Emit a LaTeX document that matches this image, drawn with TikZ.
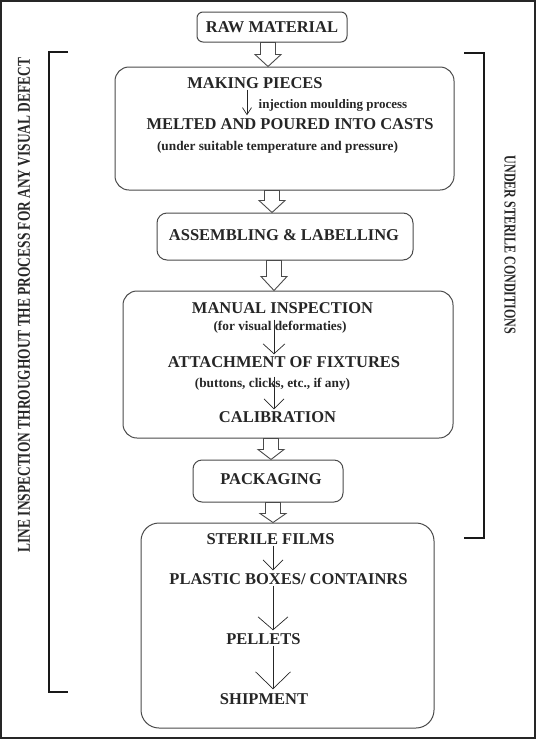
\documentclass[tikz,border=0pt]{standalone}
\usepackage{fontspec}
\setmainfont{Liberation Serif}
\usetikzlibrary{arrows.meta,calc}
\definecolor{ink}{HTML}{262626}
\definecolor{edge}{HTML}{4a4a4a}
\newcommand{\hollowarr}[4]{% from node #1 to node #2 at x=#3, head length #4
  \draw[hollow] let \p1=(#1.south), \p2=(#2.north) in
   (#3pt-7.5pt,\y1) -- (#3pt+7.5pt,\y1) -- (#3pt+7.5pt,\y2+#4pt) -- (#3pt+13pt,\y2+#4pt)
   -- (#3pt,\y2) -- (#3pt-13pt,\y2+#4pt) -- (#3pt-7.5pt,\y2+#4pt) -- cycle;}
\tikzset{
  boxs/.style={draw=edge, line width=1pt, fill=none, inner sep=0pt},
  big/.style={font=\fontsize{16.5}{18}\selectfont\bfseries, text=ink, inner sep=1pt},
  small/.style={font=\fontsize{13.3}{15}\selectfont\bfseries, text=ink, inner sep=1pt},
  hollow/.style={draw=edge, line width=0.9pt, fill=white, line join=miter},
  thinarr/.style={draw=ink, line width=0.7pt},
  bracket/.style={draw=black!90, line width=2.4pt, line cap=butt},
}
\begin{document}
\begin{tikzpicture}[x=1pt,y=-1pt]
\useasboundingbox (0,0) rectangle (536,739);
\draw[draw=black!85, line width=1.5pt] (1,1) rectangle (535,738);

% boxes
\node[boxs, minimum width=150pt, minimum height=30pt, rounded corners=6pt] (raw) at (272,27) {};
\node[boxs, minimum width=339pt, minimum height=123pt, rounded corners=14pt] (b1) at (284.5,128.5) {};
\node[boxs, minimum width=256pt, minimum height=47pt, rounded corners=10pt] (asm) at (285,236.5) {};
\node[boxs, minimum width=330pt, minimum height=147pt, rounded corners=14pt] (b3) at (288,364.5) {};
\node[boxs, minimum width=150pt, minimum height=42pt, rounded corners=9pt] (pack) at (268,481) {};
\node[boxs, minimum width=293pt, minimum height=205pt, rounded corners=18pt] (b5) at (287.5,625.5) {};

% hollow arrows
\hollowarr{raw}{b1}{268}{12}
\hollowarr{b1}{asm}{272}{12}
\hollowarr{asm}{b3}{274}{14}
\hollowarr{b3}{pack}{271}{10}
\hollowarr{pack}{b5}{273}{9}

% texts
\node[big] (rawt) at (272,27) {RAW MATERIAL};
\node[big] (making) at (255,83) {MAKING PIECES};
\node[small, font=\fontsize{13}{15}\selectfont\bfseries] (inj) at (333,105) {injection moulding process};
\node[big] (melted) at (290,124) {MELTED AND POURED INTO CASTS};
\node[small] (under) at (277.5,147) {(under suitable temperature and pressure)};
\node[big] (asmt) at (284,235) {ASSEMBLING \& LABELLING};
\node[big] (manual) at (282.5,308) {MANUAL INSPECTION};
\node[small] (forvis) at (280,327) {(for visual deformaties)};
\node[big] (attach) at (284,362) {ATTACHMENT OF FIXTURES};
\node[small] (buttons) at (272.5,384) {(buttons, clicks, etc., if any)};
\node[big] (calib) at (277.5,417) {CALIBRATION};
\node[big] (packt) at (271,479) {PACKAGING};
\node[big] (sterile) at (270.5,539) {STERILE FILMS};
\node[big] (plastic) at (288.5,579) {PLASTIC BOXES/ CONTAINRS};
\node[big] (pellets) at (263.5,639) {PELLETS};
\node[big] (ship) at (264,699) {SHIPMENT};

% thin arrows
\coordinate (x1) at (247,0);
\coordinate (x2) at (274,0);
\coordinate (x3) at (273,0);
\draw[thinarr, -{Straight Barb[length=7pt,width=9pt]}, shorten >=2pt] (x1 |- making.south) -- (x1 |- melted.north);
\draw[thinarr, -{Straight Barb[length=10pt,width=22pt]}, shorten >=1pt] (x2 |- forvis.north) -- (x2 |- attach.north);
\draw[thinarr, -{Straight Barb[length=10pt,width=20pt]}, shorten >=1pt] (x2 |- buttons.north) -- (x2 |- calib.north);
\draw[thinarr, -{Straight Barb[length=10pt,width=20pt]}, shorten >=2pt] (x3 |- sterile.south) -- (x3 |- plastic.north);
\draw[thinarr, -{Straight Barb[length=13pt,width=30pt]}, shorten >=2pt] (x3 |- plastic.south) -- (x3 |- pellets.north);
\draw[thinarr, -{Straight Barb[length=17pt,width=35pt]}, shorten >=3pt] (x3 |- pellets.south) -- (x3 |- ship.north);

% brackets
\draw[bracket] (68,52) -- (49,52) -- (49,692) -- (68,692);
\draw[bracket] (464,53) -- (484,53) -- (484,538) -- (464,538);

% side labels
\node[rotate=90, inner sep=0pt, text=ink, font=\fontsize{13.4}{15}\selectfont\bfseries] (linel) at (24,305)
  {\scalebox{1}[1.35]{LINE INSPECTION THROUGHOUT THE PROCESS FOR ANY VISUAL DEFECT}};
\node[rotate=-90, inner sep=0pt, text=ink, font=\fontsize{12}{14}\selectfont\bfseries] (sterl) at (510,245)
  {\scalebox{1}[1.38]{UNDER STERILE CONDITIONS}};
\end{tikzpicture}
\end{document}
